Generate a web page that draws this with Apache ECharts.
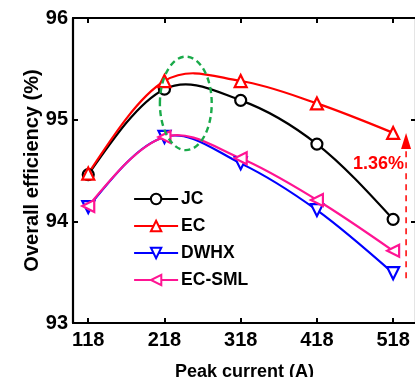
<!DOCTYPE html>
<html>
<head>
<meta charset="utf-8">
<script src="https://cdn.jsdelivr.net/npm/echarts@6/dist/echarts.min.js"></script>
<style>
html,body{margin:0;padding:0;background:#fff;}
#c{width:415px;height:377px;}
</style>
</head>
<body>
<div id="c"></div>
<script>
const categories = [118, 218, 318, 418, 518];
const seriesNames = ['JC', 'EC', 'DWHX', 'EC-SML'];
const jc = [94.46, 95.30, 95.19, 94.76, 94.02];
const ec = [94.47, 95.38, 95.38, 95.16, 94.87];
const dwhx = [94.14, 94.83, 94.57, 94.11, 93.49];
const ecsml = [94.15, 94.83, 94.62, 94.21, 93.71];
const yTicks = [93, 94, 95, 96];
const gainLabel = '1.36%';
const arrowX = 535, arrowFrom = 93.44, arrowTo = 94.87, gainLabelY = 94.56;
const ellipseCenter = [246, 95.16], ellipseRx = 34, ellipseRy = 0.46;

const sans = '"Liberation Sans", Arial, Helvetica, sans-serif';

function pairs(vals){ return categories.map((c,i)=>[c, vals[i]]); }

const colors = ['#000000', '#ff0000', '#0000ff', '#ff1493'];
const symbols = [
  'circle',
  'path://M10,0 L20,17 L0,17 Z',
  'path://M0,0 L20,0 L10,17 Z',
  'path://M17,0 L17,20 L0,10 Z'
];
const dataSets = [jc, ec, dwhx, ecsml];

const chart = echarts.init(document.getElementById('c'), null, {renderer: 'canvas'});

// Smooth spline curve through the data points, drawn through the axis scales (api.coord)
function splineRenderer(vals, color) {
  return function (params, api) {
    if (params.dataIndex !== 0) return null;
    const P = categories.map((c, i) => api.coord([c, vals[i]]));
    const n = P.length;
    const T = new Array(n);
    for (let i = 1; i < n - 1; i++) {
      T[i] = [(P[i + 1][0] - P[i - 1][0]) / 2, (P[i + 1][1] - P[i - 1][1]) / 2];
    }
    T[0] = [(3 * (P[1][0] - P[0][0]) - T[1][0]) / 2, (3 * (P[1][1] - P[0][1]) - T[1][1]) / 2];
    T[n - 1] = [(3 * (P[n - 1][0] - P[n - 2][0]) - T[n - 2][0]) / 2, (3 * (P[n - 1][1] - P[n - 2][1]) - T[n - 2][1]) / 2];
    let d = 'M' + P[0][0] + ',' + P[0][1];
    for (let i = 0; i < n - 1; i++) {
      const c1 = [P[i][0] + T[i][0] / 3, P[i][1] + T[i][1] / 3];
      const c2 = [P[i + 1][0] - T[i + 1][0] / 3, P[i + 1][1] - T[i + 1][1] / 3];
      d += ' C' + c1[0] + ',' + c1[1] + ' ' + c2[0] + ',' + c2[1] + ' ' + P[i + 1][0] + ',' + P[i + 1][1];
    }
    return {
      type: 'path',
      shape: {pathData: d},
      style: {fill: 'none', stroke: color, lineWidth: 2.2}
    };
  };
}

const series = [];
seriesNames.forEach((n, i) => {
  series.push({
    name: n + '_curve',
    type: 'custom',
    coordinateSystem: 'cartesian2d',
    data: pairs(dataSets[i]),
    renderItem: splineRenderer(dataSets[i], colors[i]),
    silent: true,
    clip: false,
    z: 2
  });
});
seriesNames.forEach((n, i) => {
  series.push({
    name: n,
    type: 'line',
    data: pairs(dataSets[i]),
    symbol: symbols[i],
    symbolSize: i === 0 ? 11 : 12,
    showAllSymbol: true,
    lineStyle: {color: colors[i], width: 2.2, opacity: 0},
    itemStyle: {color: '#fff', borderColor: colors[i], borderWidth: 2.2},
    emphasis: {disabled: true},
    z: 3 + i
  });
});

const tickCommon = {inside: true, length: 5, lineStyle: {color: '#000', width: 2}};

chart.setOption({
  animation: false,
  grid: {left: 73, top: 18, right: -1, bottom: 54, containLabel: false, outerBoundsMode: 'none'},
  legend: {
    orient: 'vertical', left: 133, top: 190, padding: 0,
    itemWidth: 44, itemHeight: 13, itemGap: 9,
    data: seriesNames.map((n, i) => ({name: n, lineStyle: {color: colors[i], width: 2.2, opacity: 1}})),
    textStyle: {fontFamily: sans, fontWeight: 'bold', fontSize: 17.5, color: '#000', padding: [0,0,0,-2]},
    selectedMode: false
  },
  xAxis: [{
    type: 'value', min: 98, max: 548, position: 'bottom',
    name: 'Peak current (A)', nameLocation: 'middle', nameGap: 40, nameMoveOverlap: false,
    nameTextStyle: {fontFamily: sans, fontWeight: 'bold', fontSize: 18, color: '#000'},
    axisLine: {show: true, onZero: false, lineStyle: {color: '#000', width: 2.2}},
    axisTick: Object.assign({customValues: categories}, tickCommon),
    axisLabel: {customValues: categories, fontFamily: sans, fontWeight: 'bold', fontSize: 20, color: '#000', margin: 7},
    splitLine: {show: false}
  }, {
    type: 'value', min: 98, max: 548, position: 'top',
    axisLine: {show: true, onZero: false, lineStyle: {color: '#000', width: 2.2}},
    axisTick: Object.assign({customValues: categories}, tickCommon),
    axisLabel: {show: false},
    splitLine: {show: false}
  }],
  yAxis: [{
    type: 'value', min: 93, max: 96, interval: 1, position: 'left',
    name: 'Overall efficiency (%)', nameLocation: 'middle', nameGap: 31, nameMoveOverlap: false,
    nameTextStyle: {fontFamily: sans, fontWeight: 'bold', fontSize: 20, color: '#000'},
    axisLine: {show: true, onZero: false, lineStyle: {color: '#000', width: 2.2}},
    axisTick: Object.assign({customValues: yTicks}, tickCommon),
    axisLabel: {customValues: yTicks, fontFamily: sans, fontWeight: 'bold', fontSize: 20, color: '#000', margin: 5},
    splitLine: {show: false}
  }, {
    type: 'value', min: 93, max: 96, interval: 1, position: 'right',
    axisLine: {show: true, onZero: false, lineStyle: {color: '#000', width: 2.2}},
    axisTick: Object.assign({customValues: yTicks}, tickCommon),
    axisLabel: {show: false},
    splitLine: {show: false}
  }],
  series: series
});

const p = (x, y) => chart.convertToPixel({gridIndex: 0}, [x, y]);
const c0 = p(ellipseCenter[0], ellipseCenter[1]);
const eTop = p(ellipseCenter[0], ellipseCenter[1] + ellipseRy);
const eRight = p(ellipseCenter[0] + ellipseRx, ellipseCenter[1]);
const aBot = p(arrowX, arrowFrom);
const aTop = p(arrowX, arrowTo);
const lbl = p(arrowX, gainLabelY);
const headLen = 16, headW = 5;

chart.setOption({
  graphic: [
    {type: 'ellipse', shape: {cx: c0[0], cy: c0[1], rx: eRight[0] - c0[0], ry: c0[1] - eTop[1]},
     style: {fill: 'none', stroke: '#1aaa4a', lineWidth: 2.4, lineDash: [6, 4]}, z: 100},
    {type: 'line', shape: {x1: aBot[0], y1: aBot[1], x2: aTop[0], y2: aTop[1] + headLen},
     style: {stroke: '#ff0000', lineWidth: 1.5, lineDash: [6, 5]}, z: 100},
    {type: 'polygon', shape: {points: [[aTop[0], aTop[1]], [aTop[0] - headW, aTop[1] + headLen], [aTop[0] + headW, aTop[1] + headLen]]},
     style: {fill: '#ff0000'}, z: 100},
    {type: 'text', x: lbl[0] - 2, y: lbl[1],
     style: {text: gainLabel, fill: '#ff0000', font: 'bold 18px ' + sans, align: 'right', verticalAlign: 'middle'}, z: 100}
  ]
});
</script>
</body>
</html>
